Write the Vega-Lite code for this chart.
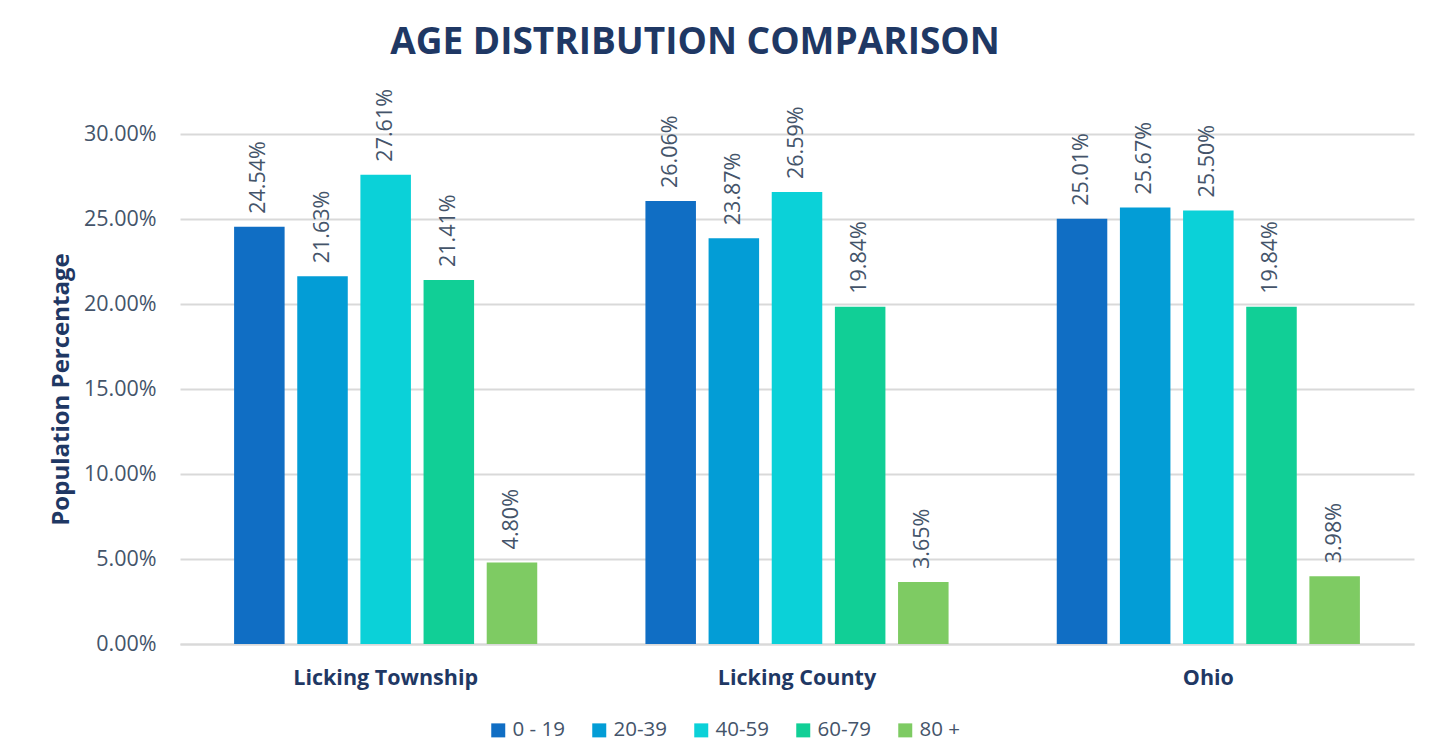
{
  "$schema": "https://vega.github.io/schema/vega-lite/v6.json",
  "width": 1234,
  "height": 510,
  "autosize": {"type": "none"},
  "padding": {"left": 180, "top": 134, "right": 25, "bottom": 104},
  "background": "white",
  "title": {
    "text": "AGE DISTRIBUTION  COMPARISON",
    "anchor": "middle",
    "frame": "group",
    "dx": -102,
    "offset": 27,
    "fontSize": 37,
    "font": "Open Sans",
    "fontWeight": "bold",
    "color": "#1F3864"
  },
  "data": {
    "values": [
      {"area": "Licking Township", "age": "0 - 19", "pct": 0.2454},
      {"area": "Licking Township", "age": "20-39", "pct": 0.2163},
      {"area": "Licking Township", "age": "40-59", "pct": 0.2761},
      {"area": "Licking Township", "age": "60-79", "pct": 0.2141},
      {"area": "Licking Township", "age": "80 +", "pct": 0.048},
      {"area": "Licking County", "age": "0 - 19", "pct": 0.2606},
      {"area": "Licking County", "age": "20-39", "pct": 0.2387},
      {"area": "Licking County", "age": "40-59", "pct": 0.2659},
      {"area": "Licking County", "age": "60-79", "pct": 0.1984},
      {"area": "Licking County", "age": "80 +", "pct": 0.0365},
      {"area": "Ohio", "age": "0 - 19", "pct": 0.2501},
      {"area": "Ohio", "age": "20-39", "pct": 0.2567},
      {"area": "Ohio", "age": "40-59", "pct": 0.255},
      {"area": "Ohio", "age": "60-79", "pct": 0.1984},
      {"area": "Ohio", "age": "80 +", "pct": 0.0398}
    ]
  },
  "encoding": {
    "x": {
      "field": "area",
      "type": "nominal",
      "sort": ["Licking Township", "Licking County", "Ohio"],
      "scale": {"paddingInner": 0.263, "paddingOuter": 0.1315},
      "axis": {
        "title": null,
        "labelAngle": 0,
        "labelLimit": 400,
        "labelFont": "Open Sans",
        "labelFontSize": 21.5,
        "labelFontWeight": "bold",
        "labelColor": "#1F3864",
        "labelPadding": 23,
        "ticks": false,
        "domainColor": "#D9D9D9",
        "domainWidth": 2
      }
    },
    "xOffset": {
      "field": "age",
      "type": "nominal",
      "sort": ["0 - 19", "20-39", "40-59", "60-79", "80 +"],
      "scale": {"paddingInner": 0.2, "paddingOuter": 0}
    },
    "y": {
      "field": "pct",
      "type": "quantitative",
      "scale": {"domain": [0, 0.3], "nice": false},
      "axis": {
        "title": "Population Percentage",
        "titleFont": "Open Sans",
        "titleFontSize": 24,
        "titleFontWeight": "bold",
        "titleColor": "#1F3864",
        "titlePadding": 10,
        "values": [0, 0.05, 0.1, 0.15, 0.2, 0.25, 0.3],
        "format": ".2%",
        "labelFont": "Open Sans",
        "labelFontSize": 21.5,
        "labelColor": "#44546A",
        "labelPadding": 24,
        "ticks": false,
        "domain": false,
        "grid": true,
        "gridColor": "#D9D9D9",
        "gridWidth": 2
      }
    }
  },
  "layer": [
    {
      "mark": {"type": "bar"},
      "encoding": {
        "color": {
          "field": "age",
          "type": "nominal",
          "sort": ["0 - 19", "20-39", "40-59", "60-79", "80 +"],
          "scale": {
            "domain": ["0 - 19", "20-39", "40-59", "60-79", "80 +"],
            "range": ["#106EC4", "#039DD6", "#0BD1D8", "#11CF96", "#7ECB63"]
          },
          "legend": {
            "title": null,
            "orient": "none",
            "direction": "horizontal",
            "legendX": 308,
            "legendY": 586,
            "symbolType": "square",
            "symbolSize": 196,
            "symbolStrokeWidth": 0,
            "labelFont": "Open Sans",
            "labelFontSize": 20.5,
            "labelColor": "#44546A",
            "labelOffset": 4,
            "columnPadding": 24
          }
        }
      }
    },
    {
      "mark": {
        "type": "text",
        "angle": -90,
        "align": "left",
        "baseline": "middle",
        "dx": 13,
        "font": "Open Sans",
        "fontSize": 21.5,
        "color": "#44546A"
      },
      "encoding": {
        "text": {"field": "pct", "type": "quantitative", "format": ".2%"}
      }
    }
  ],
  "config": {
    "view": {"stroke": null}
  }
}
